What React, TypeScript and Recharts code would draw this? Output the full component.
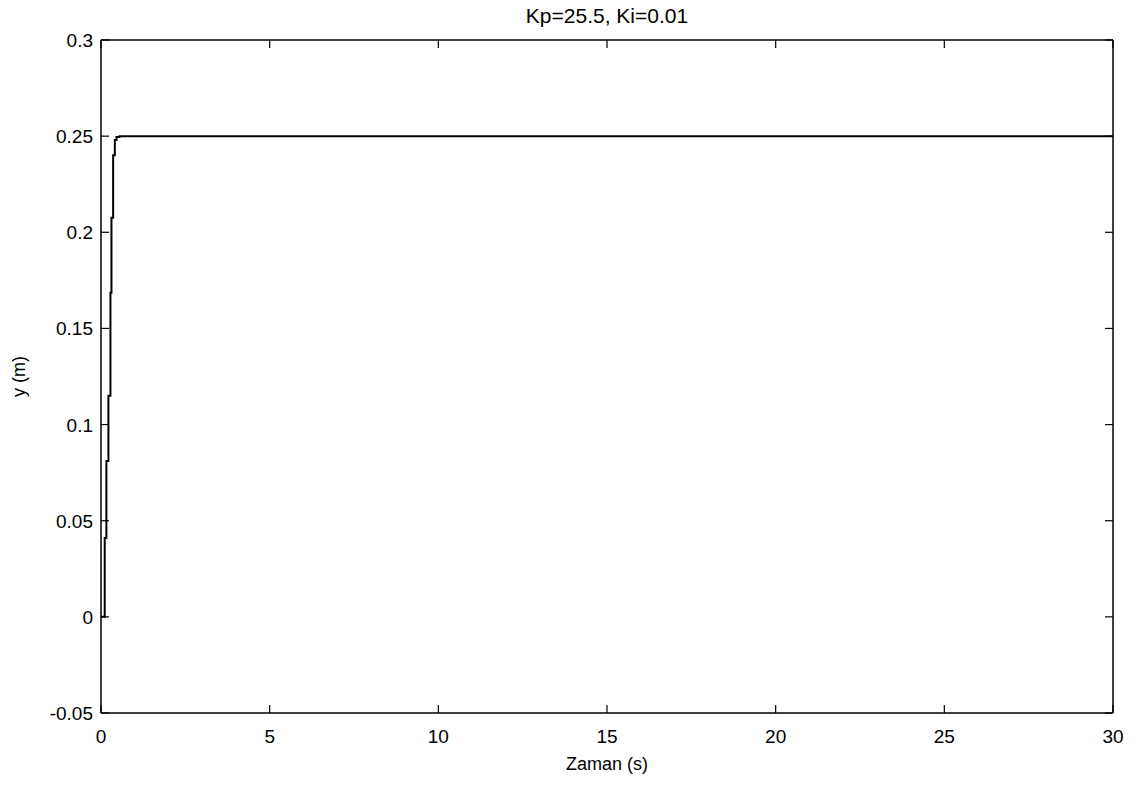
import React from "react";
import { LineChart, Line, XAxis, YAxis, Label } from "recharts";

// Step response y(t) (held values between samples)
const timeS = [0, 0.11, 0.16, 0.22, 0.28, 0.31, 0.36, 0.41, 0.46, 0.55, 30];
const yM = [0, 0.041, 0.081, 0.115, 0.1685, 0.2075, 0.24, 0.248, 0.2495, 0.25, 0.25];

const xTicks = [0, 5, 10, 15, 20, 25, 30];
const yTicks = [-0.05, 0, 0.05, 0.1, 0.15, 0.2, 0.25, 0.3];

const title = "Kp=25.5, Ki=0.01";
const xLabel = "Zaman (s)";
const yLabel = "y (m)";

const data = timeS.map((t, i) => ({ t, y: yM[i] }));

const FONT = "'Liberation Sans', Arial, sans-serif";
const TICK_FONT = 19;
const TICK_LEN = 8;

const W = 1141;
const H = 785;
const margin = { top: 39, right: 27, bottom: 12, left: 0 };
const TOP_AXIS_H = 1;
const RIGHT_AXIS_W = 1;
// edges of the plot box, used to mirror the ticks on the top and right sides
const PLOT_TOP = margin.top + TOP_AXIS_H;
const PLOT_RIGHT = W - margin.right - RIGHT_AXIS_W;

const axisStroke = { stroke: "#000", strokeWidth: 1.5 };
const fmtY = (v: number) => String(parseFloat(v.toFixed(2)));

// MATLAB-style ticks: marks point into the box on both sides, label outside
const XTick = (props: any) => {
  const { x, y, payload } = props;
  return (
    <g>
      <line x1={x} y1={y} x2={x} y2={y - TICK_LEN} stroke="#000" strokeWidth={1.2} />
      <line x1={x} y1={PLOT_TOP} x2={x} y2={PLOT_TOP + TICK_LEN} stroke="#000" strokeWidth={1.2} />
      <text x={x} y={y + 30} textAnchor="middle" fill="#000" fontSize={TICK_FONT} fontFamily={FONT}>
        {payload.value}
      </text>
    </g>
  );
};

const YTick = (props: any) => {
  const { x, y, payload } = props;
  return (
    <g>
      <line x1={x} y1={y} x2={x + TICK_LEN} y2={y} stroke="#000" strokeWidth={1.2} />
      <line x1={PLOT_RIGHT} y1={y} x2={PLOT_RIGHT - TICK_LEN} y2={y} stroke="#000" strokeWidth={1.2} />
      <text x={x - 8} y={y + 7} textAnchor="end" fill="#000" fontSize={TICK_FONT} fontFamily={FONT}>
        {fmtY(payload.value)}
      </text>
    </g>
  );
};

export default function App() {
  return (
    <div style={{ position: "absolute", left: 0, top: 0, background: "#fff", fontFamily: FONT }}>
      <LineChart width={W} height={H} data={data} margin={margin}>
        <XAxis
          dataKey="t"
          type="number"
          domain={[0, 30]}
          ticks={xTicks}
          interval={0}
          allowDataOverflow
          height={60}
          axisLine={axisStroke}
          tickLine={false}
          tickSize={0}
          tickMargin={0}
          tick={XTick}
        >
          <Label
            value={xLabel}
            position="insideBottom"
            offset={3}
            style={{ fill: "#000", fontSize: 18, fontFamily: FONT }}
          />
        </XAxis>
        {/* top edge of the box, carries the title */}
        <XAxis
          xAxisId="top"
          orientation="top"
          type="number"
          domain={[0, 30]}
          height={TOP_AXIS_H}
          axisLine={axisStroke}
          tickLine={false}
          tick={false}
        >
          <Label
            value={title}
            position="top"
            offset={16}
            style={{ fill: "#000", fontSize: 21, fontFamily: FONT }}
          />
        </XAxis>
        <YAxis
          type="number"
          domain={[-0.05, 0.3]}
          ticks={yTicks}
          interval={0}
          allowDataOverflow
          width={101}
          axisLine={axisStroke}
          tickLine={false}
          tickSize={0}
          tickMargin={0}
          tick={YTick}
        >
          <Label
            value={yLabel}
            angle={-90}
            position="insideLeft"
            offset={19}
            style={{ fill: "#000", fontSize: 18, fontFamily: FONT, textAnchor: "middle" }}
          />
        </YAxis>
        {/* right edge of the box */}
        <YAxis
          yAxisId="right"
          orientation="right"
          type="number"
          domain={[-0.05, 0.3]}
          width={RIGHT_AXIS_W}
          axisLine={axisStroke}
          tickLine={false}
          tick={false}
        />
        <Line
          type="stepAfter"
          dataKey="y"
          stroke="#000"
          strokeWidth={2}
          dot={false}
          activeDot={false}
          isAnimationActive={false}
        />
      </LineChart>
    </div>
  );
}
